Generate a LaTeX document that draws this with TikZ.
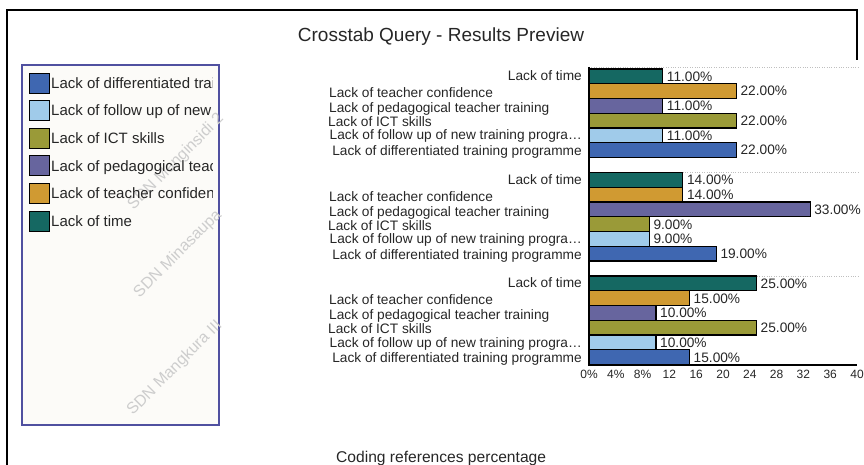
\documentclass[tikz,border=0pt]{standalone}
\usepackage{fontspec}
\setmainfont{Liberation Sans}
\usetikzlibrary{positioning}
\definecolor{timeteal}{RGB}{21,104,98}
\definecolor{confgold}{RGB}{208,154,50}
\definecolor{pedpurple}{RGB}{103,101,158}
\definecolor{ictolive}{RGB}{154,154,56}
\definecolor{followblue}{RGB}{160,203,234}
\definecolor{diffblue}{RGB}{63,103,177}
\definecolor{legendframe}{RGB}{80,80,160}
\definecolor{legendfill}{RGB}{252,251,248}
\definecolor{stampgray}{RGB}{205,205,205}

\tikzset{
  bar/.style={draw=black, line width=1.2pt},
  catlabel/.style={inner sep=0pt, text=black!85, font=\fontsize{13.7}{14}\selectfont},
  vallabel/.style={inner sep=0pt, anchor=base west, text=black!85, font=\fontsize{13.7}{14}\selectfont},
  ticklabel/.style={inner sep=0pt, text=black!85, font=\fontsize{12}{12}\selectfont},
  keytext/.style={inner sep=0pt, anchor=base west, text=black!85, font=\fontsize{15}{15}\selectfont},
  stamp/.style={rotate=45, inner sep=0pt, text=stampgray, font=\fontsize{16}{16}\selectfont}
}

\begin{document}
\begin{tikzpicture}[x=1pt, y=-1pt]
    \useasboundingbox (0,0) rectangle (864,465);

    % Frame and title
    \draw[line width=1.2pt] (7,465) -- (7,10) -- (857,10) -- (857,60);
    \node[inner sep=0pt, anchor=base, font=\fontsize{19}{19}\selectfont, text=black!85] (title) at (441,42) {Crosstab Query - Results Preview};

    % Legend
    \draw[legendframe, fill=legendfill, line width=2pt] (22,65) rectangle (219,425);
    \node[stamp] (stampA) at (176,162) {SDN Manginsidi 2};
    \node[stamp] (stampB) at (178,254) {SDN Minasaupa};
    \node[stamp] (stampC) at (175,368) {SDN Mangkura III};
    \draw[bar, line width=0.8pt, fill=diffblue] (29,73) rectangle (49,93);
    \draw[bar, line width=0.8pt, fill=followblue] (29,100.6) rectangle (49,120.6);
    \draw[bar, line width=0.8pt, fill=ictolive] (29,128.2) rectangle (49,148.2);
    \draw[bar, line width=0.8pt, fill=pedpurple] (29,155.8) rectangle (49,175.8);
    \draw[bar, line width=0.8pt, fill=confgold] (29,183.4) rectangle (49,203.4);
    \draw[bar, line width=0.8pt, fill=timeteal] (29,211) rectangle (49,231);
    \begin{scope}
        \clip (22,65) rectangle (212,425);
        \node[keytext] (keyA) at (51,88.4) {Lack of differentiated training programme};
        \node[keytext] (keyB) at (51,116) {Lack of follow up of new training programme};
        \node[keytext] (keyC) at (51,143.6) {Lack of ICT skills};
        \node[keytext] (keyD) at (51,171.2) {Lack of pedagogical teacher training};
        \node[keytext] (keyE) at (51,198.8) {Lack of teacher confidence};
        \node[keytext] (keyF) at (51,226.4) {Lack of time};
    \end{scope}

    % Grid lines
    \draw[gray!50, dotted] (589,67) -- (860,67);
    \draw[gray!50, dotted] (589,172.5) -- (860,172.5);
    \draw[gray!50, dotted] (589,276) -- (860,276);

    % Bars, one group per school
    \foreach \g/\va/\vb/\vc/\vd/\ve/\vf in {69/11/22/11/22/11/22, 172.5/14/14/33/9/9/19, 276/25/15/10/25/10/15} {
        \draw[bar, fill=timeteal] (589,\g) rectangle (589+6.7*\va,\g+14.75);
        \draw[bar, fill=confgold] (589,\g+14.75) rectangle (589+6.7*\vb,\g+29.5);
        \draw[bar, fill=pedpurple] (589,\g+29.5) rectangle (589+6.7*\vc,\g+44.25);
        \draw[bar, fill=ictolive] (589,\g+44.25) rectangle (589+6.7*\vd,\g+59);
        \draw[bar, fill=followblue] (589,\g+59) rectangle (589+6.7*\ve,\g+73.75);
        \draw[bar, fill=diffblue] (589,\g+73.75) rectangle (589+6.7*\vf,\g+88.5);
        \node[vallabel] (va) at (593+6.7*\va,\g+12.3) {\va.00\%};
        \node[vallabel] (vb) at (593+6.7*\vb,\g+27) {\vb.00\%};
        \node[vallabel] (vc) at (593+6.7*\vc,\g+41.8) {\vc.00\%};
        \node[vallabel] (vd) at (593+6.7*\vd,\g+56.5) {\vd.00\%};
        \node[vallabel] (ve) at (593+6.7*\ve,\g+71.3) {\ve.00\%};
        \node[vallabel] (vf) at (593+6.7*\vf,\g+86) {\vf.00\%};
        \node[catlabel, anchor=base east] (cata) at (582,\g+11.7) {Lack of time};
        \node[catlabel, anchor=base west] (catb) at (329,\g+28.7) {Lack of teacher confidence};
        \node[catlabel, anchor=base west] (catc) at (329,\g+43.7) {Lack of pedagogical teacher training};
        \node[catlabel, anchor=base west] (catd) at (328,\g+57.7) {Lack of ICT skills};
        \node[catlabel, anchor=base east] (cate) at (582,\g+71) {Lack of follow up of new training progra…};
        \node[catlabel, anchor=base east] (catf) at (582,\g+86.7) {Lack of differentiated training programme};
    }

    % Axes
    \draw[line width=1.2pt] (589,67) -- (589,365) -- (857,365);
    \node[ticklabel] (t0) at (589,374) {0\%};
    \node[ticklabel] (t4) at (615.8,374) {4\%};
    \node[ticklabel] (t8) at (642.6,374) {8\%};
    \node[ticklabel] (t12) at (669.4,374) {12};
    \node[ticklabel] (t16) at (696.2,374) {16};
    \node[ticklabel] (t20) at (723,374) {20};
    \node[ticklabel] (t24) at (749.8,374) {24};
    \node[ticklabel] (t28) at (776.6,374) {28};
    \node[ticklabel] (t32) at (803.4,374) {32};
    \node[ticklabel] (t36) at (830.2,374) {36};
    \node[ticklabel] (t40) at (857,374) {40};
    \node[inner sep=0pt, anchor=base west, text=black!85, font=\fontsize{15.6}{16}\selectfont] (axistitle) at (336,462) {Coding references percentage};
\end{tikzpicture}
\end{document}
